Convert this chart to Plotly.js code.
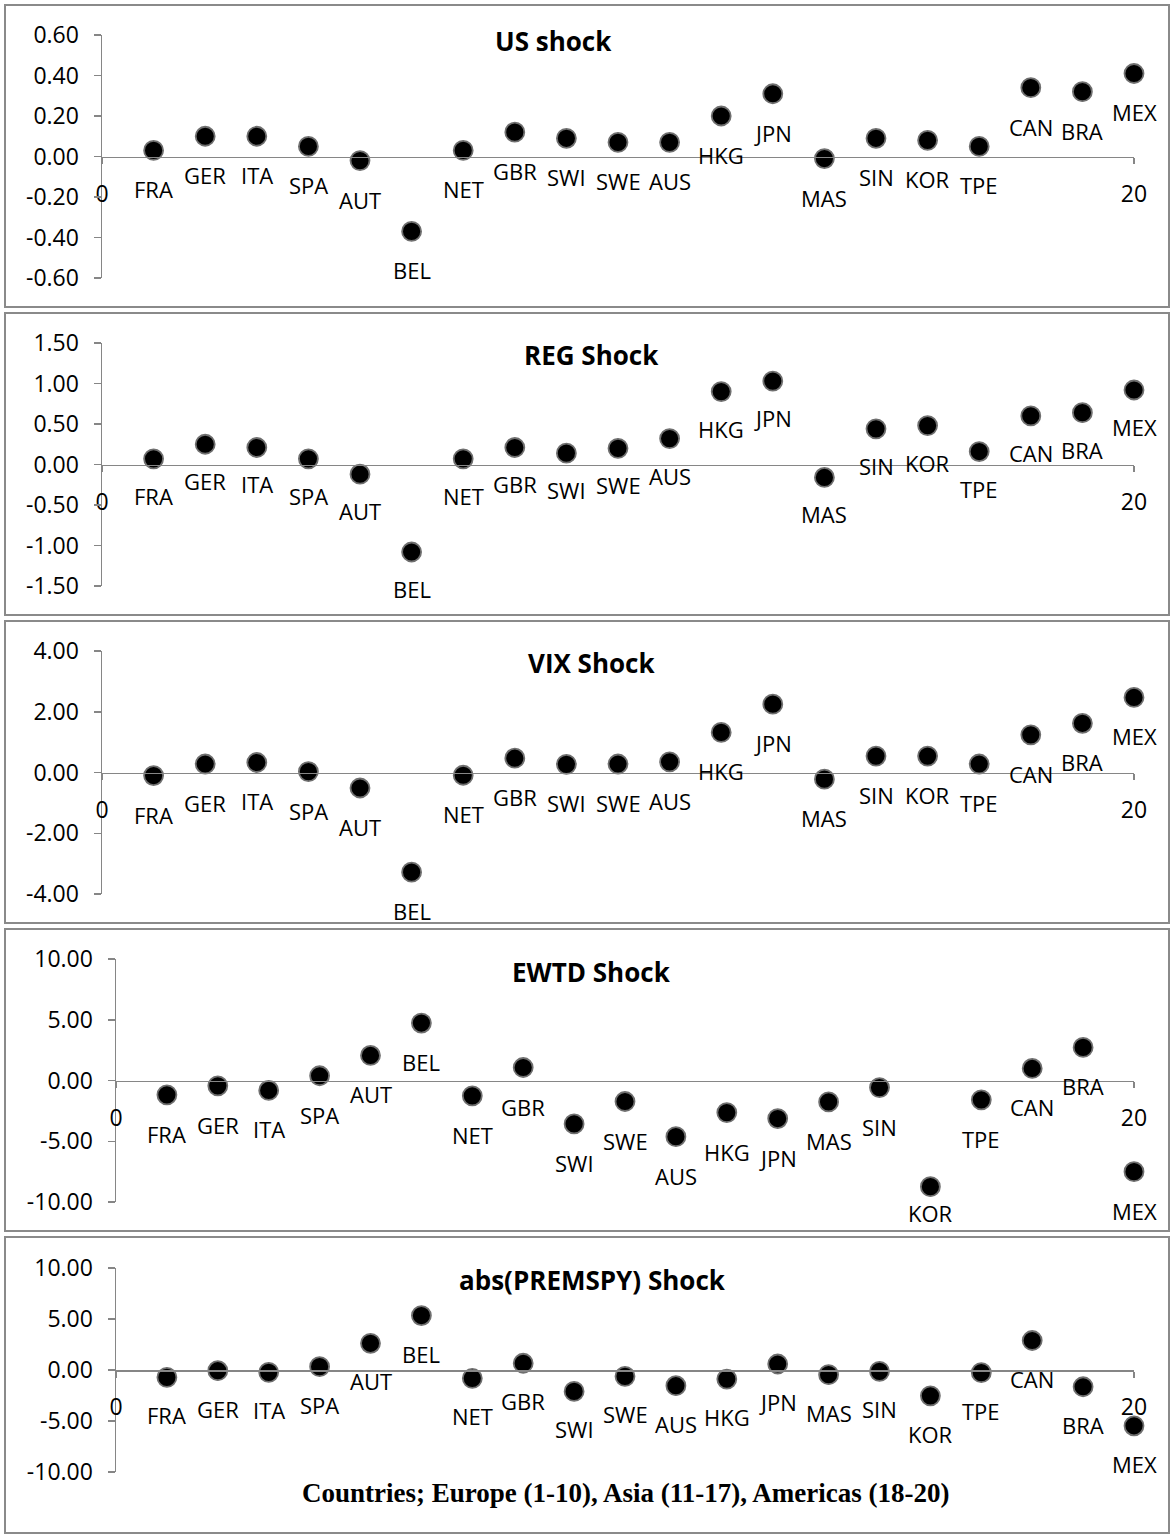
<!DOCTYPE html>
<html>
<head>
<meta charset="utf-8">
<script src="https://cdn.plot.ly/plotly-3.0.1.min.js"></script>
<style>
  html, body { margin: 0; padding: 0; background: #ffffff; }
  #chart { width: 1171px; height: 1536px; }
</style>
</head>
<body>
<div id="chart"></div>
<script>
// ---------------- DATA ----------------
const countries = ['FRA','GER','ITA','SPA','AUT','BEL','NET','GBR','SWI','SWE',
                   'AUS','HKG','JPN','MAS','SIN','KOR','TPE','CAN','BRA','MEX'];

const usShock   = [0.03, 0.10, 0.10, 0.05, -0.02, -0.37, 0.03, 0.12, 0.09, 0.07,
                   0.07, 0.20, 0.31, -0.01, 0.09, 0.08, 0.05, 0.34, 0.32, 0.41];
const regShock  = [0.07, 0.25, 0.21, 0.07, -0.12, -1.08, 0.07, 0.21, 0.14, 0.20,
                   0.32, 0.90, 1.03, -0.16, 0.44, 0.48, 0.16, 0.60, 0.64, 0.92];
const vixShock  = [-0.10, 0.28, 0.33, 0.03, -0.51, -3.28, -0.09, 0.47, 0.27, 0.28,
                   0.35, 1.32, 2.25, -0.22, 0.54, 0.54, 0.28, 1.24, 1.62, 2.47];
const ewtdShock = [-1.18, -0.44, -0.82, 0.39, 2.06, 4.73, -1.26, 1.07, -3.57, -1.73,
                   -4.62, -2.64, -3.13, -1.76, -0.58, -8.74, -1.59, 0.99, 2.72, -7.50];
const premShock = [-0.72, -0.07, -0.23, 0.33, 2.62, 5.34, -0.82, 0.66, -2.10, -0.62,
                   -1.54, -0.89, 0.59, -0.46, -0.13, -2.53, -0.26, 2.89, -1.64, -5.47];

const panelTitles = ['US shock', 'REG Shock', 'VIX Shock', 'EWTD Shock', 'abs(PREMSPY) Shock'];
const yTicksUS   = [0.6, 0.4, 0.2, 0, -0.2, -0.4, -0.6];
const yTicksREG  = [1.5, 1.0, 0.5, 0, -0.5, -1.0, -1.5];
const yTicksVIX  = [4, 2, 0, -2, -4];
const yTicksEWTD = [10, 5, 0, -5, -10];
const yTicksPREM = [10, 5, 0, -5, -10];
const xTicks = [0, 20];
const xTitle = 'Countries; Europe (1-10), Asia (11-17), Americas (18-20)';

// ---------------- LAYOUT CONSTANTS ----------------
const W = 1171, H = 1536;
const fx = p => p / W;
const fy = p => 1 - p / H;
const FONT = 'Open Sans, Noto Sans, sans-serif';
const AXIS_GRAY = '#868686';

const series = [usShock, regShock, vixShock, ewtdShock, premShock];
const yTicks = [yTicksUS, yTicksREG, yTicksVIX, yTicksEWTD, yTicksPREM];

const geom = [
  {x0: 102, top: 35,   bottom: 278,  box: [5, 307],     off: 39, tx: 553, ty: 41},
  {x0: 102, top: 343,  bottom: 586,  box: [313, 615],   off: 37, tx: 591, ty: 355},
  {x0: 102, top: 651,  bottom: 894,  box: [621, 923],   off: 39, tx: 591, ty: 663},
  {x0: 116, top: 959,  bottom: 1202, box: [929, 1231],  off: 39, tx: 591, ty: 972},
  {x0: 116, top: 1268, bottom: 1472, box: [1237, 1533], off: 38, tx: 592, ty: 1280}
];
const X1 = 1134;

const xIdx = countries.map((c, i) => i + 1);

const traces = [];
const layout = {
  width: W, height: H,
  margin: {l: 0, r: 0, t: 0, b: 0},
  paper_bgcolor: '#ffffff',
  plot_bgcolor: 'rgba(0,0,0,0)',
  showlegend: false,
  font: {family: FONT, color: '#000000', size: 22},
  shapes: [],
  annotations: []
};

series.forEach((vals, k) => {
  const n = k + 1;
  const xa = 'xaxis' + (n === 1 ? '' : n);
  const ya = 'yaxis' + (n === 1 ? '' : n);
  const xr = 'x' + (n === 1 ? '' : n);
  const yr = 'y' + (n === 1 ? '' : n);
  const g = geom[k];
  const ticks = yTicks[k];
  const ymax = Math.max(...ticks), ymin = Math.min(...ticks);
  const yDom = [fy(g.bottom), fy(g.top)];

  traces.push({
    type: 'scatter', mode: 'markers',
    x: xIdx, y: vals, xaxis: xr, yaxis: yr,
    cliponaxis: false,
    marker: {size: 19, color: '#000000', line: {color: '#6f6f6f', width: 1.8}},
    hoverinfo: 'skip'
  });

  layout[ya] = {
    domain: yDom,
    anchor: xr,
    range: [ymin, ymax],
    tickvals: ticks,
    ticktext: ticks.map(v => v.toFixed(2)),
    showline: true, linecolor: AXIS_GRAY, linewidth: 1.5,
    ticks: 'outside', ticklen: 7, tickcolor: AXIS_GRAY, tickwidth: 1.5,
    ticklabelstandoff: 10,
    showgrid: false, zeroline: false,
    tickfont: {family: FONT, size: 23, color: '#000000'},
    fixedrange: true
  };
  layout[xa] = {
    domain: [fx(g.x0), fx(X1)],
    anchor: 'free',
    position: (yDom[0] + yDom[1]) / 2,
    range: [0, 20],
    tickvals: xTicks,
    ticktext: xTicks.map(String),
    showline: true, linecolor: AXIS_GRAY, linewidth: 1.5,
    ticks: 'outside', ticklen: 6, tickcolor: AXIS_GRAY, tickwidth: 1.5,
    ticklabelstandoff: 10,
    showgrid: false, zeroline: false,
    tickfont: {family: FONT, size: 23, color: '#000000'},
    fixedrange: true
  };

  // panel border
  layout.shapes.push({
    type: 'rect', xref: 'paper', yref: 'paper',
    x0: fx(5), x1: fx(1169), y0: fy(g.box[1]), y1: fy(g.box[0]),
    line: {color: '#8a8a8a', width: 2}, fillcolor: 'rgba(0,0,0,0)'
  });

  // panel title
  layout.annotations.push({
    xref: 'paper', yref: 'paper', x: fx(g.tx), y: fy(g.ty),
    xanchor: 'center', yanchor: 'middle', showarrow: false,
    text: '<b>' + panelTitles[k] + '</b>',
    font: {family: FONT, size: 26, color: '#000000'}
  });

  // data labels (below each point)
  countries.forEach((c, i) => {
    let off = g.off;
    if (k === 3 && c === 'KOR') off = 26;
    layout.annotations.push({
      xref: xr, yref: yr, x: xIdx[i], y: vals[i],
      yshift: -off, xanchor: 'center', yanchor: 'middle',
      showarrow: false, text: c,
      font: {family: FONT, size: 22, color: '#000000'}
    });
  });
});

// x-axis title of the last panel
layout.annotations.push({
  xref: 'paper', yref: 'paper', x: fx((116 + X1) / 2), y: fy(1493),
  xanchor: 'center', yanchor: 'middle', showarrow: false,
  text: '<b>' + xTitle + '</b>',
  font: {family: 'Liberation Serif, Times New Roman, serif', size: 27, color: '#000000'}
});

Plotly.newPlot('chart', traces, layout, {staticPlot: true, displayModeBar: false});
</script>
</body>
</html>
